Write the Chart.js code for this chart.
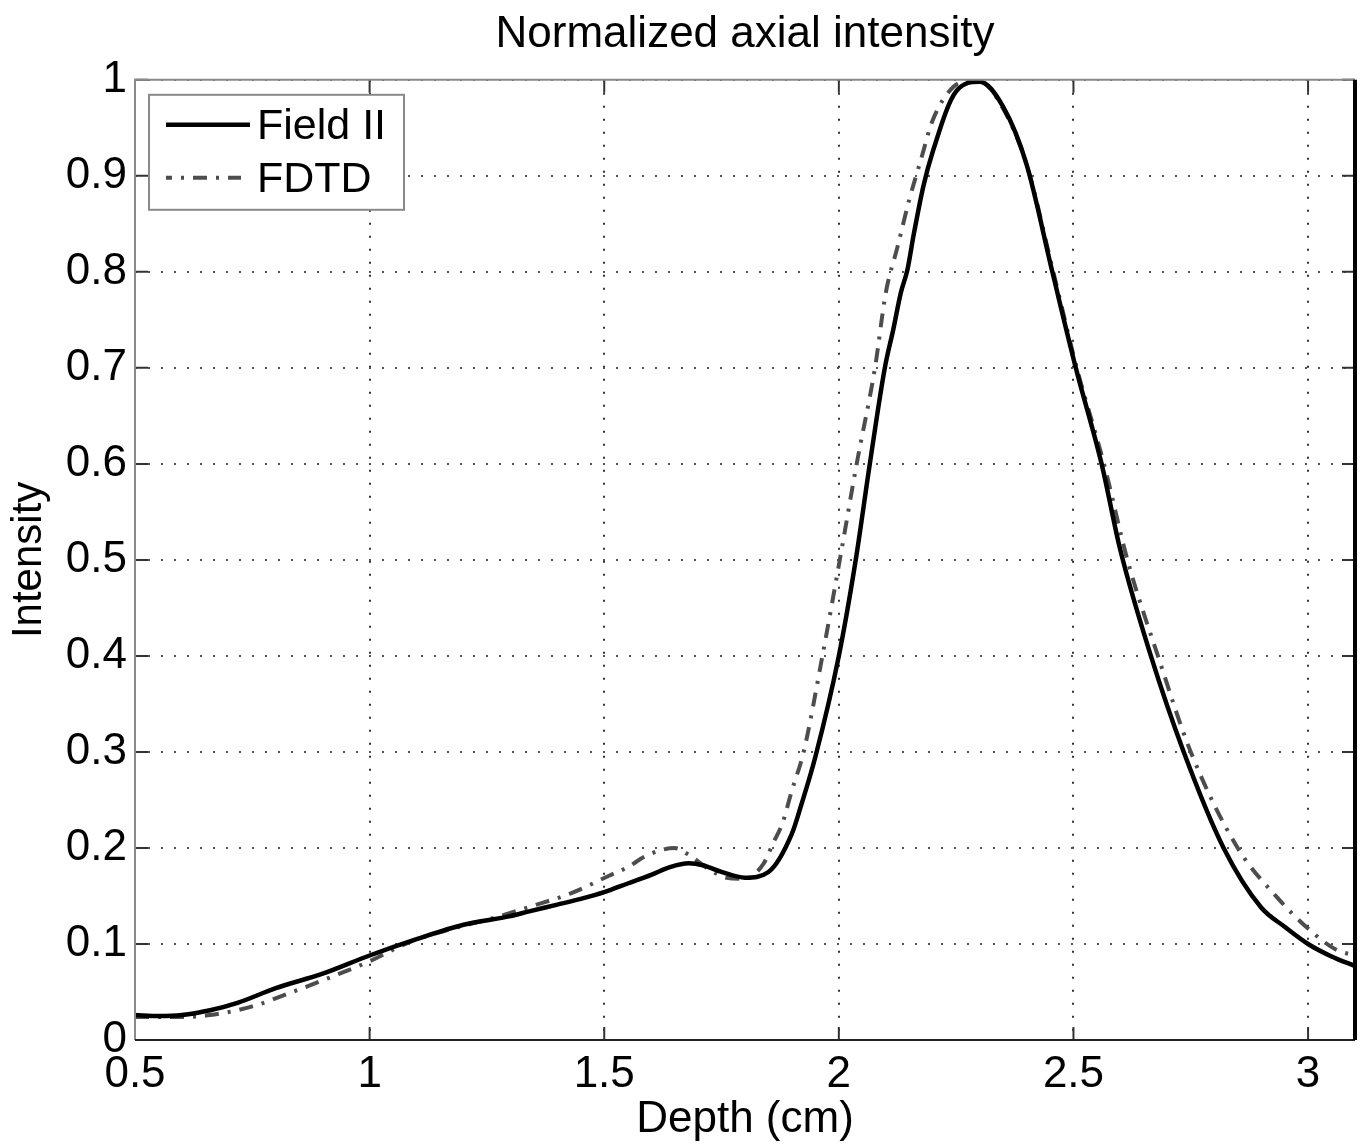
<!DOCTYPE html>
<html>
<head>
<meta charset="utf-8">
<title>Normalized axial intensity</title>
<script src="https://cdn.jsdelivr.net/npm/chart.js@4.4.1/dist/chart.umd.min.js"></script>
<style>
  html, body { margin: 0; padding: 0; background: #fff; }
  #wrap { width: 1361px; height: 1148px; position: relative; }
</style>
</head>
<body>
<div id="wrap"><canvas id="axialChart"></canvas></div>
<script>
// ---- data ----
const fieldDepth = [0.50, 0.55, 0.60, 0.66, 0.72, 0.80, 0.90, 1.00, 1.10, 1.20, 1.30, 1.34, 1.40, 1.45,
  1.50, 1.55, 1.60, 1.64, 1.68, 1.71, 1.75, 1.80, 1.85, 1.90, 1.92, 1.95, 2.00, 2.036, 2.066, 2.098,
  2.116, 2.132, 2.146, 2.16, 2.18, 2.20, 2.25, 2.30, 2.35, 2.40, 2.455, 2.505, 2.56, 2.60, 2.665,
  2.735, 2.82, 2.90, 2.95, 3.00, 3.05, 3.10];
const fieldIntensity = [0.026, 0.025, 0.026, 0.031, 0.039, 0.054, 0.069, 0.088, 0.105, 0.120, 0.129, 0.134, 0.141, 0.147,
  0.154, 0.163, 0.172, 0.180, 0.184, 0.182, 0.175, 0.169, 0.175, 0.215, 0.245, 0.295, 0.400, 0.500, 0.600, 0.700,
  0.740, 0.778, 0.802, 0.840, 0.889, 0.925, 0.988, 0.998, 0.972, 0.912, 0.800, 0.700, 0.600, 0.510, 0.400,
  0.300, 0.200, 0.138, 0.118, 0.100, 0.087, 0.077];

const fdtdDepth = [0.50, 0.55, 0.60, 0.66, 0.75, 0.83, 0.92, 1.00, 1.09, 1.17, 1.27, 1.35, 1.43,
  1.51, 1.55, 1.59, 1.65, 1.68, 1.72, 1.76, 1.80, 1.84, 1.86, 1.88, 1.90, 1.925, 1.965, 2.002, 2.038,
  2.077, 2.10, 2.125, 2.15, 2.175, 2.20, 2.245, 2.275, 2.30, 2.35, 2.40, 2.457, 2.507, 2.565, 2.615,
  2.68, 2.75, 2.85, 2.935, 3.00, 3.06, 3.10];
const fdtdIntensity = [0.024, 0.024, 0.024, 0.026, 0.035, 0.049, 0.066, 0.082, 0.103, 0.115, 0.128, 0.140, 0.153,
  0.171, 0.180, 0.192, 0.200, 0.193, 0.179, 0.169, 0.168, 0.184, 0.205, 0.226, 0.260, 0.300, 0.400, 0.500, 0.600,
  0.700, 0.778, 0.826, 0.875, 0.917, 0.958, 0.993, 0.998, 0.998, 0.970, 0.912, 0.800, 0.700, 0.600, 0.500,
  0.400, 0.300, 0.200, 0.148, 0.116, 0.094, 0.088];

const depthTicks = [0.5, 1, 1.5, 2, 2.5, 3];
const intensityTicks = [0, 0.1, 0.2, 0.3, 0.4, 0.5, 0.6, 0.7, 0.8, 0.9, 1];

const FONT = "'Liberation Sans', Arial, Helvetica, sans-serif";
const FS = 44;

function toPoints(xs, ys) {
  return xs.map((x, i) => ({ x, y: ys[i] }));
}

/* ===============================
   box + inward ticks (matlab style)
=============================== */
const frameTicksPlugin = {
  id: "frameTicks",
  afterDatasetsDraw(chart) {
    const { ctx, chartArea: a, scales } = chart;
    const len = 13;
    ctx.save();
    ctx.strokeStyle = "#333";
    ctx.lineWidth = 2;
    depthTicks.forEach(v => {
      const px = scales.x.getPixelForValue(v);
      ctx.beginPath();
      ctx.moveTo(px, a.bottom); ctx.lineTo(px, a.bottom - len);
      ctx.moveTo(px, a.top); ctx.lineTo(px, a.top + len);
      ctx.stroke();
    });
    intensityTicks.forEach(v => {
      const py = scales.y.getPixelForValue(v);
      ctx.beginPath();
      ctx.moveTo(a.left, py); ctx.lineTo(a.left + len, py);
      ctx.moveTo(a.right, py); ctx.lineTo(a.right - len, py);
      ctx.stroke();
    });

    // frame
    ctx.strokeStyle = "#8a8a8a";
    ctx.beginPath();
    ctx.moveTo(a.left, a.bottom); ctx.lineTo(a.left, a.top); ctx.lineTo(a.right, a.top);
    ctx.stroke();
    ctx.strokeStyle = "#222";
    ctx.beginPath();
    ctx.moveTo(a.left, a.bottom); ctx.lineTo(a.right, a.bottom);
    ctx.stroke();
    ctx.strokeStyle = "#000";
    ctx.lineWidth = 4;
    ctx.beginPath();
    ctx.moveTo(a.right, a.top); ctx.lineTo(a.right, a.bottom);
    ctx.stroke();
    ctx.restore();
  }
};

/* ===============================
   legend box inside the axes
=============================== */
const boxLegendPlugin = {
  id: "boxLegend",
  afterDraw(chart) {
    const { ctx, chartArea: a } = chart;
    const x0 = a.left + 14, y0 = a.top + 15, w = 255, h = 115;
    ctx.save();
    ctx.fillStyle = "#fff";
    ctx.fillRect(x0, y0, w, h);
    ctx.strokeStyle = "#8a8a8a";
    ctx.lineWidth = 2;
    ctx.strokeRect(x0, y0, w, h);

    chart.data.datasets.forEach((ds, i) => {
      const cy = y0 + 30 + i * 53;
      ctx.beginPath();
      ctx.setLineDash(ds.borderDash || []);
      ctx.lineDashOffset = 8;
      ctx.strokeStyle = ds.borderColor;
      ctx.lineWidth = ds.borderWidth;
      ctx.moveTo(x0 + 17, cy);
      ctx.lineTo(x0 + (i === 0 ? 101 : 92), cy);
      ctx.stroke();
      ctx.setLineDash([]);
      ctx.fillStyle = "#000";
      ctx.font = "43px " + FONT;
      ctx.textBaseline = "middle";
      ctx.textAlign = "left";
      ctx.fillText(ds.label, x0 + 108, cy + 2);
    });
    ctx.restore();
  }
};

new Chart(document.getElementById("axialChart"), {
  type: "line",
  data: {
    datasets: [
      {
        label: "Field II",
        data: toPoints(fieldDepth, fieldIntensity),
        borderColor: "#000",
        borderWidth: 4.5,
        pointRadius: 0,
        cubicInterpolationMode: "monotone"
      },
      {
        label: "FDTD",
        data: toPoints(fdtdDepth, fdtdIntensity),
        borderColor: "#4d4d4d",
        borderWidth: 4,
        borderDash: [14, 9, 3, 9],
        pointRadius: 0,
        cubicInterpolationMode: "monotone"
      }
    ]
  },
  options: {
    responsive: true,
    maintainAspectRatio: false,
    animation: false,
    layout: { padding: { left: 0, right: 6, top: 0, bottom: 0 } },
    scales: {
      x: {
        type: "linear",
        min: 0.5,
        max: 3.1,
        afterBuildTicks: s => { s.ticks = depthTicks.map(v => ({ value: v })); },
        afterFit: s => { s.height = 108; },
        ticks: {
          color: "#000",
          padding: 8,
          font: { family: FONT, size: FS },
          maxRotation: 0,
          callback: v => String(v)
        },
        grid: { color: "#333", lineWidth: 2, drawTicks: false },
        border: { display: false, dash: [2, 11] },
        title: {
          display: true,
          text: "Depth (cm)",
          color: "#000",
          font: { family: FONT, size: FS },
          padding: { top: 0, bottom: 2 }
        }
      },
      y: {
        min: 0,
        max: 1,
        afterBuildTicks: s => { s.ticks = intensityTicks.map(v => ({ value: v })); },
        afterFit: s => { s.width = 135; },
        ticks: {
          color: "#000",
          padding: 8,
          font: { family: FONT, size: FS },
          callback: v => String(v)
        },
        grid: { color: "#555", lineWidth: 2, drawTicks: false },
        border: { display: false, dash: [2, 11] },
        title: {
          display: true,
          text: "Intensity",
          color: "#000",
          font: { family: FONT, size: 42 },
          padding: { top: 4, bottom: 0 }
        }
      }
    },
    plugins: {
      legend: { display: false },
      tooltip: { enabled: false },
      title: {
        display: true,
        fullSize: false,
        text: "Normalized axial intensity",
        color: "#000",
        font: { family: FONT, size: FS, weight: "normal" },
        padding: { top: 8, bottom: 19 }
      }
    }
  },
  plugins: [frameTicksPlugin, boxLegendPlugin]
});
</script>
</body>
</html>
